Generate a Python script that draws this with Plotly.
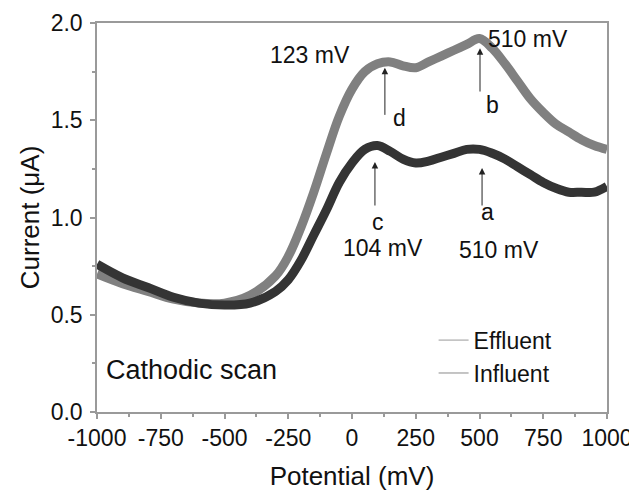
import plotly.graph_objects as go

# cathodic scan, potential in mV, current in uA
potential = [-1000, -900, -800, -700, -600, -500, -400, -300, -250, -200, -150, -100, -50,
             0, 50, 100, 150, 200, 250, 300, 350, 400, 450, 500, 550, 600, 650, 700, 750,
             800, 850, 900, 950, 1000]
influent = [0.76, 0.69, 0.64, 0.59, 0.56, 0.55, 0.56, 0.62, 0.68, 0.78, 0.91, 1.04, 1.18,
            1.28, 1.35, 1.37, 1.34, 1.30, 1.28, 1.29, 1.31, 1.33, 1.35, 1.35, 1.33, 1.30, 1.26,
            1.22, 1.18, 1.15, 1.13, 1.13, 1.13, 1.16]
effluent = [0.71, 0.66, 0.62, 0.58, 0.56, 0.56, 0.60, 0.70, 0.80, 0.95, 1.13, 1.33, 1.52,
            1.66, 1.75, 1.79, 1.80, 1.78, 1.77, 1.80, 1.83, 1.86, 1.89, 1.92, 1.87, 1.79, 1.70,
            1.61, 1.54, 1.48, 1.44, 1.40, 1.37, 1.35]

x_ticks = [-1000, -750, -500, -250, 0, 250, 500, 750, 1000]
x_ticktext = ["-1000", "-750", "-500", "-250", "0", "250", "500", "750", "1000"]

# peak labels: (text, x, y) and arrows: (x, tip y, tail y)
peak_texts = [("123 mV", -165, 1.835), ("d", 188, 1.51), ("c", 102, 0.977), ("104 mV", 122, 0.843),
              ("510 mV", 690, 1.92), ("b", 549, 1.578), ("a", 533, 1.028), ("510 mV", 576, 0.833)]
peak_arrows = [(129, 1.77, 1.52), (90, 1.285, 1.054), (502, 1.87, 1.64), (510, 1.254, 1.054)]

FONT = "Liberation Sans, Arial, sans-serif"
EFF_COL = "#808080"
INF_COL = "#343434"

fig = go.Figure()
fig.add_trace(go.Scatter(x=potential, y=effluent, mode="lines", line=dict(color=EFF_COL, width=9, shape="spline"),
                         showlegend=False))
fig.add_trace(go.Scatter(x=potential, y=influent, mode="lines", line=dict(color=INF_COL, width=9, shape="spline"),
                         showlegend=False))
# thin legend samples like the original
fig.add_trace(go.Scatter(x=[None], y=[None], mode="lines", name="Effluent", line=dict(color="#9a9a9a", width=1)))
fig.add_trace(go.Scatter(x=[None], y=[None], mode="lines", name="Influent", line=dict(color="#8a8a8a", width=1)))

for t, x, y in peak_texts:
    fig.add_annotation(x=x, y=y, text=t, showarrow=False, font=dict(size=23, color="#111", family=FONT))
for x, tip, tail in peak_arrows:
    fig.add_annotation(x=x, y=tip, ax=x, ay=tail, axref="x", ayref="y", text="", showarrow=True,
                       arrowhead=2, arrowsize=1.3, arrowwidth=1, arrowcolor="#222")
fig.add_annotation(x=-631, y=0.216, text="Cathodic scan", showarrow=False,
                   font=dict(size=27, color="#111", family=FONT))

axis_style = dict(showline=True, linecolor="#9a9a9a", linewidth=1.5, mirror=True, showgrid=False, zeroline=False,
                  ticks="outside", ticklen=5, tickcolor="#9a9a9a", tickwidth=1.5, automargin=False,
                  tickfont=dict(size=23, color="#111", family=FONT),
                  minor=dict(ticks="outside", ticklen=3, tickcolor="#9a9a9a", tickwidth=1.5))
fig.update_xaxes(range=[-1000, 1000], tickvals=x_ticks, ticktext=x_ticktext, title_text="Potential (mV)",
                 title_font=dict(size=26, color="#111", family=FONT), title_standoff=20,
                 ticklabeloverflow="allow", **axis_style)
fig.update_xaxes(minor_dtick=125)
fig.update_yaxes(range=[0, 2.0], dtick=0.5, tickformat=".1f", title_text="Current (\u03bcA)",
                 title_font=dict(size=26, color="#111", family=FONT), title_standoff=4,
                 ticklabelstandoff=3, **axis_style)
fig.update_yaxes(minor_dtick=0.25)

# the page body keeps an 8px margin, so the figure is 8px smaller than the window
fig.update_layout(width=629, height=483, template="simple_white", plot_bgcolor="white", paper_bgcolor="white",
                  margin=dict(l=89, r=30, t=15, b=79),
                  legend=dict(x=0.66, y=0.24, xanchor="left", yanchor="top", bgcolor="rgba(0,0,0,0)",
                              font=dict(size=23, color="#111", family=FONT), tracegroupgap=0))
fig.write_html("out.html")
